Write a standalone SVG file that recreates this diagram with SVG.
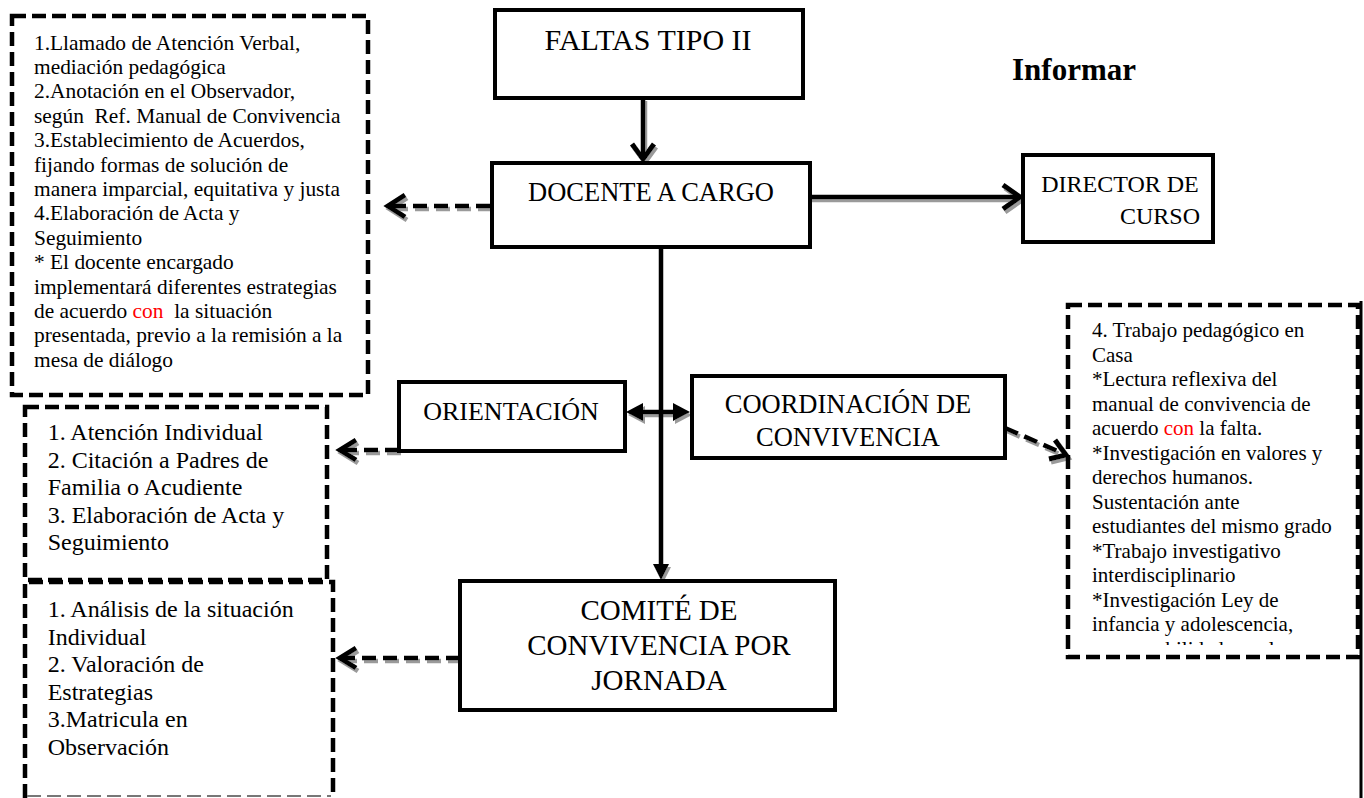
<svg xmlns="http://www.w3.org/2000/svg" width="1364" height="798" viewBox="0 0 1364 798">
<style>
.t{font-family:"Liberation Serif","Times New Roman",serif;fill:#000;white-space:pre}
.box{fill:#fff;stroke:#000;stroke-width:4}
.dbox{fill:none;stroke:#000;stroke-width:4.5;stroke-dasharray:14 6}
.con{fill:none;stroke:#000;stroke-width:4.5}
.dash{stroke-dasharray:14 7}
.head{fill:none;stroke:#000;stroke-width:5;stroke-linejoin:miter}
.tri{fill:#000;stroke:none}
.red{fill:#f00}
.s1{font-size:21.4px}
.s4{font-size:21px}
.s2{font-size:24px}
</style>
<defs>
<filter id="sh" filterUnits="userSpaceOnUse" x="0" y="0" width="1364" height="798">
<feOffset in="SourceAlpha" dx="2" dy="3" result="o"/>
<feFlood flood-color="#9a9a9a"/>
<feComposite in2="o" operator="in" result="s"/>
<feMerge><feMergeNode in="s"/><feMergeNode in="SourceGraphic"/></feMerge>
</filter>
<clipPath id="clip4"><rect x="1070" y="300" width="290" height="345"/></clipPath>
</defs>
<rect width="1364" height="798" fill="#fff"/>

<g id="connectors">
<g filter="url(#sh)">
<line class="con" x1="643" y1="98" x2="643" y2="158"/>
<path class="head" d="M632,144 L643,159 L654,144"/>
<line class="con" x1="810" y1="197" x2="1019" y2="197"/>
<path class="head" d="M1003,185 L1020,197 L1003,209"/>
<path class="tri" d="M653,564 L669,564 L661,580 Z"/>
<line class="con" x1="640" y1="412" x2="676" y2="412"/>
<path class="tri" d="M626,412 L643,403 L643,421 Z"/>
<path class="tri" d="M690,412 L673,403 L673,421 Z"/>
<line class="con dash" x1="490" y1="206" x2="392" y2="206"/>
<path class="head" d="M405,195 L388,206 L405,217"/>
<line class="con dash" x1="399" y1="450" x2="344" y2="450"/>
<path class="head" d="M356,440 L340,450 L356,460"/>
<line class="con dash" x1="460" y1="658" x2="344" y2="658"/>
<path class="head" d="M356,648 L340,658 L356,668"/>
<line class="con dash" x1="1005" y1="428" x2="1062" y2="453"/>
<path class="head" d="M1055,440 L1066,455 L1049,459"/>
</g>
<line class="con" x1="661" y1="247" x2="661" y2="566"/>
</g>

<g id="n-faltas">
<rect class="box" x="495" y="10" width="308" height="88"/>
<text class="t" x="648" y="50" font-size="30" text-anchor="middle">FALTAS TIPO II</text>
</g>

<g id="n-informar">
<text class="t" x="1012" y="80" font-size="31" font-weight="bold">Informar</text>
</g>

<g id="n-docente">
<rect class="box" x="492" y="163" width="318" height="84"/>
<text class="t" x="651" y="201" font-size="26.5" text-anchor="middle">DOCENTE A CARGO</text>
</g>

<g id="n-director">
<rect class="box" x="1023" y="155" width="190" height="87"/>
<text class="t" x="1120" y="192" font-size="24" text-anchor="middle">DIRECTOR DE</text>
<text class="t" x="1160" y="224" font-size="24" text-anchor="middle">CURSO</text>
</g>

<g id="n-orientacion">
<rect class="box" x="399" y="382" width="226" height="69"/>
<text class="t" x="511" y="420" font-size="26" text-anchor="middle">ORIENTACIÓN</text>
</g>

<g id="n-coordinacion">
<rect class="box" x="692" y="376" width="313" height="82"/>
<text class="t" x="848" y="413" font-size="26.5" text-anchor="middle">COORDINACIÓN DE</text>
<text class="t" x="848" y="446" font-size="26.5" text-anchor="middle">CONVIVENCIA</text>
</g>

<g id="n-comite">
<rect class="box" x="460" y="581" width="375" height="129"/>
<text class="t" x="659" y="620" font-size="29" text-anchor="middle">COMITÉ DE</text>
<text class="t" x="659" y="655" font-size="29" text-anchor="middle">CONVIVENCIA POR</text>
<text class="t" x="659" y="689.5" font-size="29" text-anchor="middle">JORNADA</text>
</g>

<g id="n-docente-acciones">
<rect class="dbox" x="12" y="16" width="356" height="379"/>
<text class="t s1" x="34" y="49.5">1.Llamado de Atención Verbal,</text>
<text class="t s1" x="34" y="73.9">mediación pedagógica</text>
<text class="t s1" x="34" y="98.3">2.Anotación en el Observador,</text>
<text class="t s1" x="34" y="122.7" xml:space="preserve">según  Ref. Manual de Convivencia</text>
<text class="t s1" x="34" y="147.1">3.Establecimiento de Acuerdos,</text>
<text class="t s1" x="34" y="171.5">fijando formas de solución de</text>
<text class="t s1" x="34" y="195.9">manera imparcial, equitativa y justa</text>
<text class="t s1" x="34" y="220.3">4.Elaboración de Acta y</text>
<text class="t s1" x="34" y="244.7">Seguimiento</text>
<text class="t s1" x="34" y="269.1">* El docente encargado</text>
<text class="t s1" x="34" y="293.5">implementará diferentes estrategias</text>
<text class="t s1" x="34" y="317.9" xml:space="preserve">de acuerdo <tspan class="red">con</tspan>  la situación</text>
<text class="t s1" x="34" y="342.3">presentada, previo a la remisión a la</text>
<text class="t s1" x="34" y="366.7">mesa de diálogo</text>
</g>

<g id="n-orientacion-acciones">
<rect class="dbox" x="25" y="407" width="302" height="173"/>
<text class="t s2" x="47.7" y="440">1. Atención Individual</text>
<text class="t s2" x="47.7" y="467.5">2. Citación a Padres de</text>
<text class="t s2" x="47.7" y="495">Familia o Acudiente</text>
<text class="t s2" x="47.7" y="522.5">3. Elaboración de Acta y</text>
<text class="t s2" x="47.7" y="550">Seguimiento</text>
</g>

<g id="n-comite-acciones">
<path class="dbox" d="M25,798 L25,582 L333,582 L333,798"/>
<line x1="27" y1="796" x2="331" y2="796" stroke="#777" stroke-width="2" stroke-dasharray="14 6"/>
<text class="t s2" x="47.7" y="617">1. Análisis de la situación</text>
<text class="t s2" x="47.7" y="644.5">Individual</text>
<text class="t s2" x="47.7" y="672">2. Valoración de</text>
<text class="t s2" x="47.7" y="699.5">Estrategias</text>
<text class="t s2" x="47.7" y="727">3.Matricula en</text>
<text class="t s2" x="47.7" y="754.5">Observación</text>
</g>

<g id="n-coordinacion-acciones">
<rect class="dbox" x="1068" y="305" width="290" height="352"/>
<line x1="1361" y1="301" x2="1361" y2="798" stroke="#000" stroke-width="3"/>
<g clip-path="url(#clip4)">
<text class="t s4" x="1092" y="337">4. Trabajo pedagógico en</text>
<text class="t s4" x="1092" y="361.5">Casa</text>
<text class="t s4" x="1092" y="386">*Lectura reflexiva del</text>
<text class="t s4" x="1092" y="410.5">manual de convivencia de</text>
<text class="t s4" x="1092" y="435">acuerdo <tspan class="red">con</tspan> la falta.</text>
<text class="t s4" x="1092" y="459.5">*Investigación en valores y</text>
<text class="t s4" x="1092" y="484">derechos humanos.</text>
<text class="t s4" x="1092" y="508.5">Sustentación ante</text>
<text class="t s4" x="1092" y="533">estudiantes del mismo grado</text>
<text class="t s4" x="1092" y="557.5">*Trabajo investigativo</text>
<text class="t s4" x="1092" y="582">interdisciplinario</text>
<text class="t s4" x="1092" y="606.5">*Investigación Ley de</text>
<text class="t s4" x="1092" y="631">infancia y adolescencia,</text>
<text class="t s4" x="1092" y="655.5">responsabilidad penal</text>
</g>
</g>
</svg>
